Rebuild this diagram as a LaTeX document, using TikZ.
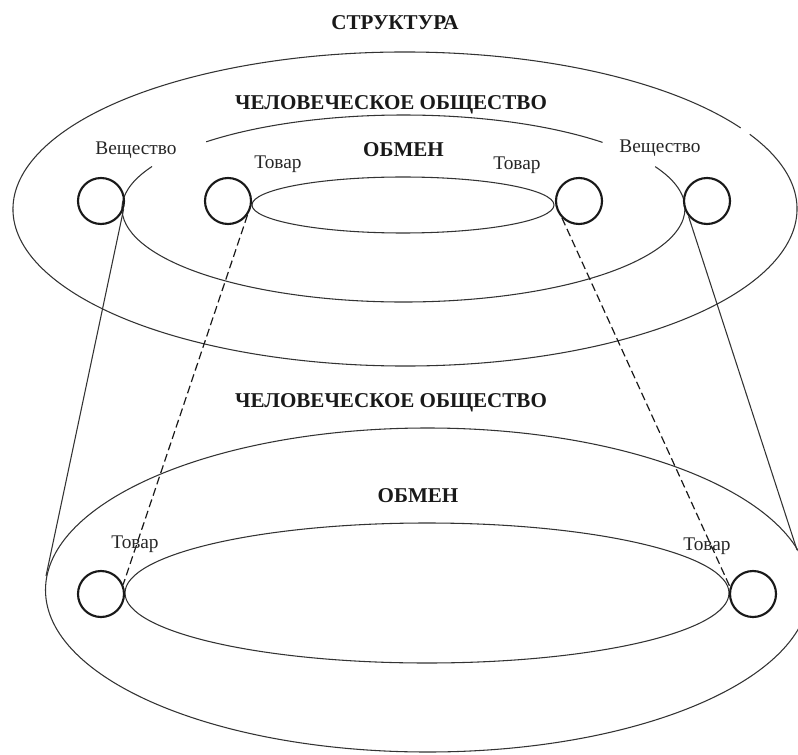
\documentclass[tikz,border=0pt]{standalone}
\usepackage{fontspec}
\setmainfont{Liberation Serif}
\begin{document}
\begin{tikzpicture}[x=0.75pt,y=0.75pt,
  ring/.style={circle,draw=black!90,line width=1.6pt,minimum size=34.5pt,inner sep=0pt},
  oval/.style={draw=black!80,line width=0.8pt},
  link/.style={draw=black!80,line width=0.8pt},
  dlink/.style={draw=black!90,line width=0.9pt,dash pattern=on 6pt off 3pt},
  lbl/.style={anchor=base,inner sep=0pt,text=black!85,font=\fontsize{14.5}{17}\selectfont},
  head/.style={anchor=base,inner sep=0pt,text=black!90,font=\fontsize{15.8}{19}\selectfont\bfseries}]
\useasboundingbox (0,0) rectangle (798,754);
\begin{scope}
\clip (0,0) rectangle (798,754);
% top outer ellipse (small gap at upper right)
\draw[oval] (405,545) ++(31.1:392 and 157) arc[start angle=31.1,end angle=388.4,x radius=392,y radius=157];
% middle ellipse (interrupted near the labels)
\draw[oval] (403.5,545.5) ++(45:281.5 and 93.5) arc[start angle=45,end angle=134.5,x radius=281.5,y radius=93.5];
\draw[oval] (403.5,545.5) ++(153.3:281.5 and 93.5) arc[start angle=153.3,end angle=386.6,x radius=281.5,y radius=93.5];
% inner top ellipse
\draw[oval] (403,549) ellipse[x radius=151,y radius=28];
% bottom ellipses
\draw[oval] (427.5,164) ellipse[x radius=382,y radius=162];
\draw[oval] (427,161) ellipse[x radius=302,y radius=70];
\end{scope}
% circles
\node[ring] (vl) at (101,553) {};
\node[ring] (tl) at (228,553) {};
\node[ring] (tr) at (579,553) {};
\node[ring] (vr) at (707,553) {};
\node[ring] (bl) at (101,160) {};
\node[ring] (br) at (753,160) {};
% free ends on the lower outer ellipse
\coordinate (eL) at (46,178);
\coordinate (eR) at (797,204);
% connectors
\draw[link] (vl.-20) -- (eL);
\draw[link] (vr.-140) -- (eR);
\draw[dlink] (tl.-36) -- (bl.23);
\draw[dlink] (tr.-135) -- (br.163);
% labels
\node[head] (t0) at (395,724) {СТРУКТУРА};
\node[head] (t1) at (391,644) {ЧЕЛОВЕЧЕСКОЕ ОБЩЕСТВО};
\node[head] (t2) at (403.5,597) {ОБМЕН};
\node[lbl] (t3) at (136,599) {Вещество};
\node[lbl] (t4) at (278,585) {Товар};
\node[lbl] (t5) at (517,584) {Товар};
\node[lbl] (t6) at (660,601) {Вещество};
\node[head] (t7) at (391,347) {ЧЕЛОВЕЧЕСКОЕ ОБЩЕСТВО};
\node[head] (t8) at (418,252) {ОБМЕН};
\node[lbl] (t9) at (135,206) {Товар};
\node[lbl] (t10) at (707,204) {Товар};
\end{tikzpicture}
\end{document}
